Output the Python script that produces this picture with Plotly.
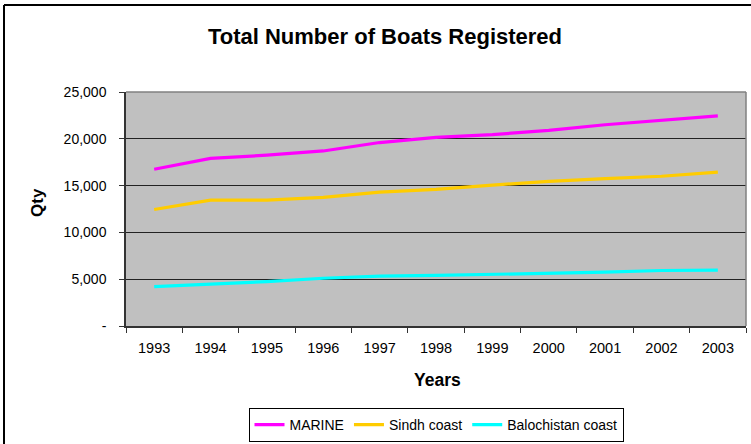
import plotly.graph_objects as go

years = ["1993", "1994", "1995", "1996", "1997", "1998", "1999", "2000", "2001", "2002", "2003"]
marine = [16750, 17900, 18250, 18700, 19600, 20150, 20450, 20900, 21500, 22000, 22450]
sindh = [12450, 13450, 13450, 13750, 14300, 14600, 15050, 15450, 15750, 16000, 16450]
balochistan = [4200, 4470, 4750, 5100, 5320, 5400, 5500, 5650, 5750, 5930, 5970]

series_names = ["MARINE", "Sindh coast", "Balochistan coast"]
series_colors = ["#FF00FF", "#FFCC00", "#00FFFF"]

y_tickvals = [0, 5000, 10000, 15000, 20000, 25000]
y_ticktext = ["-", "5,000", "10,000", "15,000", "20,000", "25,000"]

FONT = "Liberation Sans, Arial, sans-serif"

fig = go.Figure()
for name, vals, col in zip(series_names, [marine, sindh, balochistan], series_colors):
    fig.add_trace(go.Scatter(x=years, y=vals, mode="lines", name=name,
                             line=dict(color=col, width=3.2)))

W, H = 751, 444
ml, mr, mt, mb = 126, 5, 92, 118
pw, ph = W - ml - mr, H - mt - mb

def px_x(x):
    return (x - ml) / pw

def px_y(y):
    return (H - mb - y) / ph

fig.update_layout(
    width=W, height=H,
    margin=dict(l=ml, r=mr, t=mt, b=mb, autoexpand=False),
    paper_bgcolor="white",
    plot_bgcolor="#C0C0C0",
    font=dict(family=FONT, size=14, color="black"),
    title=dict(text="<b>Total Number of Boats Registered</b>", x=385 / W, y=1 - 36 / H,
               xanchor="center", yanchor="middle", font=dict(size=22, family=FONT)),
    showlegend=True,
    legend=dict(orientation="h", x=px_x(436), y=px_y(408), xanchor="center", yanchor="top",
                bordercolor="black", borderwidth=1, bgcolor="white",
                font=dict(size=14, family=FONT), itemwidth=30, tracegroupgap=0),
    xaxis=dict(type="category", range=[-0.5, 10.5], showgrid=False,
               showline=True, linecolor="#333333", linewidth=1.5, mirror=False,
               ticks="outside", ticklen=5, tickcolor="#333333", tickson="boundaries",
               tickfont=dict(size=14.5), ticklabelstandoff=8),
    yaxis=dict(range=[0, 25000], tickvals=y_tickvals, ticktext=y_ticktext,
               showgrid=True, gridcolor="#222222", gridwidth=1,
               showline=True, linecolor="#333333", linewidth=1.5,
               ticks="outside", ticklen=5, tickcolor="#333333",
               tickfont=dict(size=14), ticklabelstandoff=10, zeroline=False),
    annotations=[
        dict(text="<b>Qty</b>", x=px_x(37), y=px_y(203), xref="paper", yref="paper",
             showarrow=False, textangle=-90, font=dict(size=17, family=FONT),
             xanchor="center", yanchor="middle"),
        dict(text="<b>Years</b>", x=px_x(437), y=px_y(380), xref="paper", yref="paper",
             showarrow=False, font=dict(size=17.5, family=FONT),
             xanchor="center", yanchor="middle"),
    ],
    shapes=[
        dict(type="line", xref="paper", yref="paper", x0=0, x1=1, y0=1, y1=1,
             line=dict(color="#808080", width=1.5)),
        dict(type="line", xref="paper", yref="paper", x0=1, x1=1, y0=0, y1=1,
             line=dict(color="#808080", width=1.5)),
        dict(type="line", xref="paper", yref="paper", x0=px_x(4), x1=px_x(751),
             y0=px_y(5), y1=px_y(5), line=dict(color="black", width=2)),
        dict(type="line", xref="paper", yref="paper", x0=px_x(4), x1=px_x(4),
             y0=px_y(5), y1=px_y(444), line=dict(color="black", width=2)),
    ],
)

fig.write_html("out.html")
